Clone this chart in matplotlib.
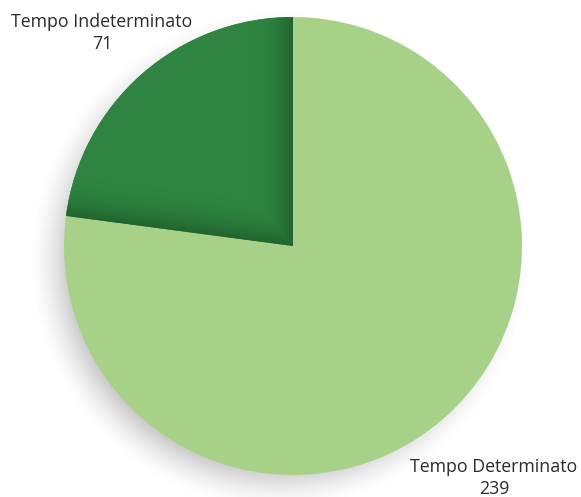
import numpy as np
import matplotlib.pyplot as plt
from matplotlib.colors import to_rgb

labels = ["Tempo Determinato", "Tempo Indeterminato"]
values = [239, 71]
colors = ["#a8d188", "#2e8540"]

W, H = 581, 497
cx, cy, R = 293, H - 246, 229

plt.rcParams['font.family'] = ['Open Sans', 'DejaVu Sans']

fig = plt.figure(figsize=(W / 100, H / 100), dpi=100)
ax = fig.add_axes([0, 0, 1, 1])

# pixel grid in y-up coords
yy, xx = np.mgrid[0:H, 0:W]
X = xx + 0.5
Y = H - (yy + 0.5)

# soft drop shadow under the pie (offset down-left)
d = np.hypot(X - (cx - 14), Y - (cy - 14))
a = np.clip((R + 20 - d) / 42, 0, 1) ** 1.5 * 0.42
shadow = np.zeros((H, W, 4))
shadow[..., :3] = 0.45
shadow[..., 3] = a
ax.imshow(shadow, extent=(0, W, 0, H), origin='upper', zorder=1)

wedges, _ = ax.pie(values, colors=colors, startangle=90, counterclock=False,
                   center=(cx, cy), radius=R, frame=True)
for w in wedges:
    w.set_zorder(2)

# shading on the dark slice: darker towards its straight edges
dark = wedges[1]
t1, t2 = sorted([dark.theta1 % 360, dark.theta2 % 360 or 360])
ang = np.degrees(np.arctan2(Y - cy, X - cx)) % 360
r = np.hypot(X - cx, Y - cy)
dist1 = r * np.sin(np.radians(np.clip(ang - t1, 0, 90)))
dist2 = r * np.sin(np.radians(np.clip(t2 - ang, 0, 90)))
edge = np.minimum(dist1, dist2)
t = np.clip(1 - edge / 40, 0, 1) ** 2.2 * 0.85
base = np.array(to_rgb("#2e8440"))
shade = np.array(to_rgb("#1e5e2b"))
img = np.zeros((H, W, 4))
img[..., :3] = base * (1 - t[..., None]) + shade * t[..., None]
img[..., 3] = 1
im = ax.imshow(img, extent=(0, W, 0, H), origin='upper', zorder=3)
im.set_clip_path(dark)

ax.set_xlim(0, W)
ax.set_ylim(0, H)
ax.set_aspect('equal')
ax.axis('off')

ax.text(102, H - 33, "Tempo Indeterminato\n71", ha='center', va='center',
        fontsize=12.8, color='#2b2b2b', linespacing=1.35)
ax.text(494, H - 478, "Tempo Determinato\n239", ha='center', va='center',
        fontsize=12.8, color='#2b2b2b', linespacing=1.35)

fig.savefig("out.png", dpi=100)
